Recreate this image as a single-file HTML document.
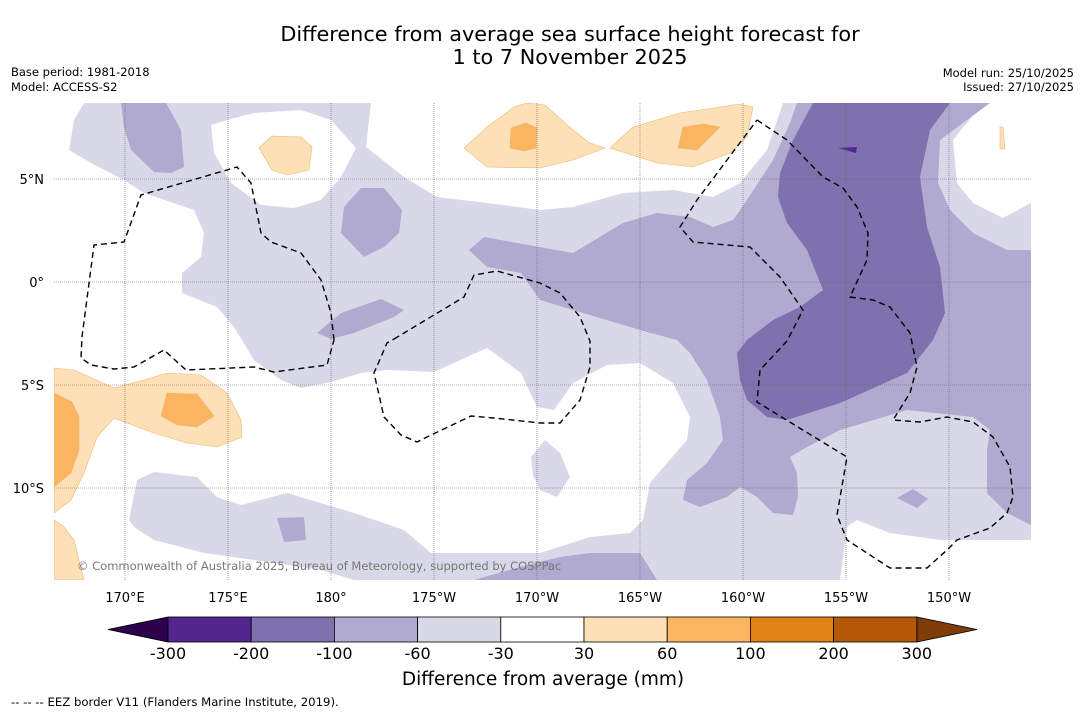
<!DOCTYPE html>
<html><head><meta charset="utf-8">
<style>
body{margin:0;background:#fff;width:1085px;height:713px;overflow:hidden;font-family:"DejaVu Sans","Liberation Sans",sans-serif;}
svg{position:absolute;left:0;top:0;font-family:"DejaVu Sans","Liberation Sans",sans-serif;}
</style></head>
<body>
<svg id="chart" width="1085" height="713">
<text x="570" y="41" font-size="20.8" text-anchor="middle">Difference from average sea surface height forecast for</text>
<text x="570" y="64" font-size="20.8" text-anchor="middle">1 to 7 November 2025</text>
<text x="11" y="76" font-size="11.5">Base period: 1981-2018</text>
<text x="11" y="91" font-size="11.5">Model: ACCESS-S2</text>
<text x="1074" y="77" font-size="11.5" text-anchor="end">Model run: 25/10/2025</text>
<text x="1074" y="91" font-size="11.5" text-anchor="end">Issued: 27/10/2025</text>
<g id="map"></g>
<g id="grid"></g>
<g id="eez"></g>
<text x="77" y="570" font-size="11.5" fill="#777">© Commonwealth of Australia 2025, Bureau of Meteorology, supported by COSPPac</text>
<g id="axes"></g>
<g id="cbar"></g>
<text x="543" y="685" font-size="18.5" text-anchor="middle">Difference from average (mm)</text>
<text x="11" y="706" font-size="11.7">--  --  -- EEZ border V11 (Flanders Marine Institute, 2019).</text>
</svg>
<script>
const lonTicks=[170,175,180,185,190,195,200,205,210];
const lonLabels=["170°E","175°E","180°","175°W","170°W","165°W","160°W","155°W","150°W"];
const latTicks=[5,0,-5,-10];
const latLabels=["5°N","0°","5°S","10°S"];
const cbLevels=[-300,-200,-100,-60,-30,30,60,100,200,300];
const cbColors=["#54278f","#7f71ad","#b0a9d0","#d8d8e9","#ffffff","#fde0b5","#fbb561","#e08214","#b35806"];
const cbUnder="#2d004b", cbOver="#7f3b08";
const NS="http://www.w3.org/2000/svg";
const X0=54,X1=1031,Y0=103,Y1=580;
function lonX(l){return 125+(l-170)*20.6;}
function latY(l){return 282-l*20.6;}
function mk(tag,attrs,parent){const e=document.createElementNS(NS,tag);for(const k in attrs)e.setAttribute(k,attrs[k]);parent.appendChild(e);return e;}
const LAV="#d8d8e9",MED="#b0a9d0",DRK="#7f71ad",PEA="#fde0b5",ORA="#fbb561",WHT="#ffffff";
const regions=[
[WHT,[[54,103],[84,103],[74,120],[69,150],[91,163],[124,180],[144,193],[194,210],[204,233],[201,257],[182,273],[182,293],[217,307],[234,327],[254,360],[281,380],[301,388],[331,382],[361,373],[387,370],[434,372],[487,348],[521,373],[537,407],[554,410],[573,383],[607,365],[640,363],[673,383],[690,417],[687,440],[667,463],[650,483],[643,520],[630,533],[590,537],[540,553],[431,553],[404,530],[354,513],[287,493],[241,505],[217,497],[197,477],[154,472],[137,480],[129,520],[134,527],[154,540],[204,553],[254,560],[321,570],[354,580],[54,580]]],
[WHT,[[211,125],[227,120],[254,113],[301,110],[331,120],[356,148],[341,177],[321,200],[294,208],[261,205],[231,183],[214,153]]],
[WHT,[[371,103],[366,147],[404,177],[437,197],[487,203],[540,210],[573,207],[623,193],[673,190],[713,197],[740,183],[767,150],[783,103]]],
[WHT,[[983,103],[953,140],[957,183],[973,203],[1003,218],[1031,203],[1031,103]]],
[WHT,[[847,527],[857,520],[890,533],[940,540],[1031,540],[1031,580],[840,580]]],
[LAV,[[531,457],[545,440],[560,453],[570,477],[557,497],[540,490],[533,475]]],
[MED,[[121,103],[166,103],[181,130],[184,167],[171,173],[154,172],[131,150],[124,127]]],
[MED,[[361,188],[384,188],[402,210],[399,233],[384,247],[364,257],[341,233],[344,207]]],
[MED,[[317,333],[341,313],[381,299],[404,310],[394,317],[354,333],[331,339]]],
[MED,[[277,518],[304,517],[306,540],[284,542]]],
[MED,[[469,250],[484,237],[573,253],[623,223],[657,213],[690,217],[713,227],[733,220],[747,200],[773,160],[790,123],[797,103],[990,103],[940,140],[938,183],[950,210],[973,233],[1007,250],[1031,250],[1031,525],[1007,513],[987,493],[987,450],[990,430],[973,417],[907,410],[840,430],[807,447],[790,457],[797,473],[798,497],[793,515],[773,513],[757,497],[740,487],[727,497],[700,507],[683,500],[687,480],[707,463],[723,440],[720,417],[707,380],[690,353],[677,340],[640,330],[573,310],[540,300],[521,273],[487,267]]],
[MED,[[897,498],[913,489],[928,499],[917,508]]],
[MED,[[474,580],[520,567],[560,557],[590,553],[640,553],[657,580]]],
[DRK,[[813,103],[793,140],[780,173],[778,197],[787,223],[807,250],[823,290],[800,307],[773,320],[747,340],[737,353],[740,380],[747,400],[767,417],[787,420],[840,403],[907,373],[933,340],[945,313],[940,267],[927,227],[920,177],[930,130],[950,103]]],
["#54278f",[[838,148],[857,147],[856,153]]],
[PEA,[[259,148],[272,136],[301,137],[312,147],[309,170],[287,175],[272,170]]],
[PEA,[[464,148],[487,127],[514,107],[527,103],[545,105],[573,130],[590,143],[605,148],[573,160],[540,168],[487,167]]],
[PEA,[[610,148],[633,127],[680,113],[740,104],[753,107],[747,137],[730,153],[693,167],[657,163]]],
[PEA,[[1000,127],[1003,127],[1005,149],[1000,149]]],
[PEA,[[54,368],[74,370],[114,388],[144,380],[167,373],[201,375],[227,393],[241,420],[242,437],[217,447],[187,443],[154,433],[114,418],[97,437],[84,473],[71,500],[54,513]]],
[PEA,[[54,520],[64,527],[74,540],[84,580],[54,580]]],
[ORA,[[511,128],[526,123],[537,128],[536,148],[524,151],[510,148]]],
[ORA,[[683,127],[703,124],[720,127],[697,150],[678,148]]],
[ORA,[[54,393],[72,402],[79,417],[79,450],[71,473],[54,487]]],
[ORA,[[167,393],[197,394],[214,416],[197,427],[177,425],[161,416]]]
];
const map=document.getElementById('map');
const cp=mk('clipPath',{id:'mc'},map);mk('rect',{x:X0,y:Y0,width:X1-X0,height:Y1-Y0},cp);
const mg=mk('g',{'clip-path':'url(#mc)'},map);
const bg=mk('rect',{x:X0,y:Y0,width:X1-X0,height:Y1-Y0,fill:LAV},mg);


regions.forEach(r=>{
  const p=mk('polygon',{points:r[1].map(q=>q.join(',')).join(' '),fill:r[0],stroke:(r[0]==PEA||r[0]==ORA)?'#e8b878':'none','stroke-width':0.6},mg);
  
  
});
const eezPaths=[
[[334,340],[331,313],[321,280],[301,253],[271,242],[261,233],[251,183],[237,167],[141,195],[124,242],[94,245],[82,337],[81,358],[91,365],[114,369],[134,367],[164,350],[186,370],[254,367],[274,372],[327,365],[334,340]],
[[394,339],[464,297],[474,275],[497,271],[540,283],[560,293],[580,317],[590,341],[590,367],[580,400],[560,423],[540,423],[494,418],[471,416],[427,437],[417,442],[401,435],[384,417],[374,373],[387,343],[394,339]],
[[757,120],[787,140],[823,177],[843,188],[857,207],[868,233],[867,260],[850,297],[873,300],[890,307],[910,333],[917,367],[910,393],[893,420],[920,422],[947,417],[973,422],[993,437],[1010,467],[1013,497],[1007,513],[990,528],[957,540],[947,550],[927,568],[890,568],[847,540],[837,515],[847,457],[757,402],[760,370],[787,341],[803,310],[780,277],[750,247],[693,242],[680,227],[697,200],[727,160],[757,120]]
];
const eez=document.getElementById('eez');
eezPaths.forEach(pth=>{
  const l=mk('polyline',{points:pth.map(q=>q.join(',')).join(' '),fill:'none',stroke:'#000','stroke-width':1.4,'stroke-dasharray':'6,4'},eez);
  
  
});
const grid=document.getElementById('grid'),axes=document.getElementById('axes');
lonTicks.forEach((t,i)=>{
  const x=lonX(t);
  const g=mk('line',{x1:x,x2:x,y1:Y0,y2:Y1,stroke:'#666','stroke-width':0.6,'stroke-dasharray':'1,1'},grid);
  
  
  const tx=mk('text',{x:x,y:602,'font-size':13,'text-anchor':'middle'},axes);tx.textContent=lonLabels[i];
  
  
});
latTicks.forEach((t,i)=>{
  const y=latY(t);
  const g=mk('line',{x1:X0,x2:X1,y1:y,y2:y,stroke:'#666','stroke-width':0.6,'stroke-dasharray':'1,1'},grid);
  
  
  const tx=mk('text',{x:44,y:y+5,'font-size':13,'text-anchor':'end'},axes);tx.textContent=latLabels[i];
  
  
});
const cb=document.getElementById('cbar');
const CB0=168,CBW=83.2,CY=617,CH=25;
function cbX(i){return CB0+i*CBW;}
const u=mk('polygon',{points:`${cbX(0)},${CY} ${cbX(0)},${CY+CH} 108,${CY+CH/2}`,fill:cbUnder,stroke:'#000','stroke-width':0.8},cb);


const n=cbLevels.length-1;
const o=mk('polygon',{points:`${cbX(n)},${CY} ${cbX(n)},${CY+CH} 977,${CY+CH/2}`,fill:cbOver,stroke:'#000','stroke-width':0.8},cb);


cbColors.forEach((c,i)=>{
  const r=mk('rect',{x:cbX(i),y:CY,width:CBW,height:CH,fill:c,stroke:'#000','stroke-width':0.8},cb);
  
  
});
cbLevels.forEach((v,i)=>{
  const t=mk('text',{x:cbX(i),y:659,'font-size':16,'text-anchor':'middle'},cb);t.textContent=v;
  
  
});
</script>
</body></html>
